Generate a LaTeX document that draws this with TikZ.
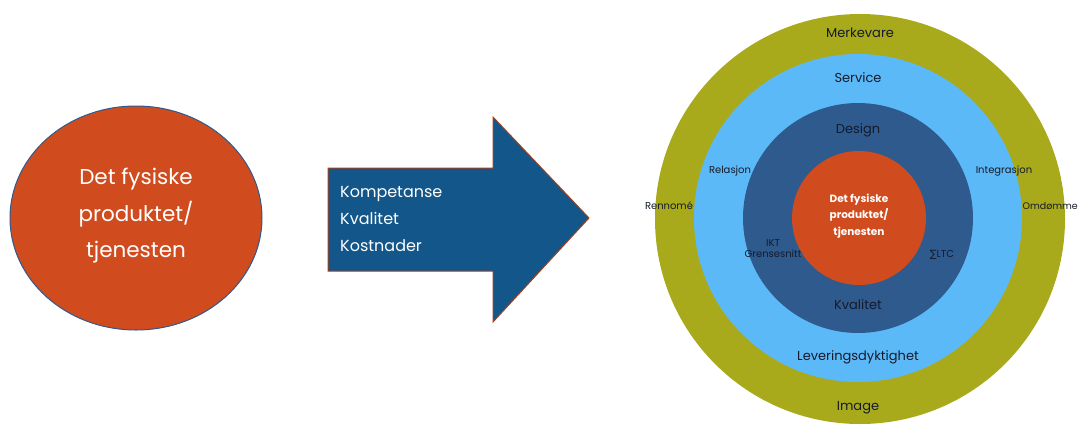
\documentclass[tikz,border=0pt]{standalone}
\usepackage{fontspec}
\setmainfont{Poppins}
\newfontfamily\djv{DejaVu Sans}
\definecolor{orng}{HTML}{D04B1E}
\definecolor{arrblue}{HTML}{12568A}
\definecolor{arredge}{HTML}{A3401C}
\definecolor{olive}{HTML}{A8AA1C}
\definecolor{lblue}{HTML}{5CB9F8}
\definecolor{dblue}{HTML}{2E5A8E}
\definecolor{ringtxt}{HTML}{151B2B}
\usetikzlibrary{shapes.geometric}
\tikzset{
  ringlbl/.style={text=ringtxt,font=\fontsize{13}{15}\selectfont,inner sep=0pt},
  smalllbl/.style={text=ringtxt,font=\fontsize{10}{12}\selectfont,inner sep=0pt,align=center},
  whitetxt/.style={text=white,align=center,inner sep=0pt},
}
\begin{document}
\begin{tikzpicture}[x=1pt,y=-1pt]
\useasboundingbox (0,0) rectangle (1079,426);
% left circle
\node[ellipse,fill=orng,draw=dblue,line width=1pt,minimum width=252pt,minimum height=224pt,inner sep=0pt] (prod) at (136,218) {};
\node[whitetxt,font=\fontsize{21.5}{36.5}\selectfont] (prodtxt) at (136,216) {Det fysiske\\produktet/\\tjenesten};
% arrow
\draw[fill=arrblue,draw=arredge,line width=1pt] (328,168) -- (493,168) -- (493,117) -- (589,218) -- (493,322) -- (493,271) -- (328,271) -- cycle;
\node[whitetxt,align=left,anchor=west,font=\fontsize{16}{27}\selectfont] (arrtxt) at (340,219) {Kompetanse\\Kvalitet\\Kostnader};
% rings
\fill[olive] (860,219) circle[radius=205];
\fill[lblue] (858,218) circle[radius=164];
\fill[dblue] (858,218) circle[radius=115];
\fill[orng] (859,218) circle[radius=67];
\node[whitetxt,font=\bfseries\fontsize{10.5}{16.5}\selectfont] (core) at (859,216) {Det fysiske\\produktet/\\tjenesten};
\node[ringlbl] (merk) at (860,33) {Merkevare};
\node[ringlbl] (serv) at (858,78) {Service};
\node[ringlbl] (des) at (858,130) {Design};
\node[ringlbl] (kval) at (858,305) {Kvalitet};
\node[ringlbl] (lev) at (858,357) {Leveringsdyktighet};
\node[ringlbl] (img) at (858,408) {Image};
\node[smalllbl] (rel) at (730,171) {Relasjon};
\node[smalllbl] (integ) at (1004,171) {Integrasjon};
\node[smalllbl] (renn) at (669,206) {Rennomé};
\node[smalllbl,anchor=east,font=\fontsize{9.5}{12}\selectfont] (omd) at (1078,206) {Omdømme};
\node[smalllbl] (ikt) at (773,249) {IKT\\[-1pt]Grensesnitt};
\node[smalllbl] (ltc) at (942,255) {{\djv ∑}LTC};
\end{tikzpicture}
\end{document}
